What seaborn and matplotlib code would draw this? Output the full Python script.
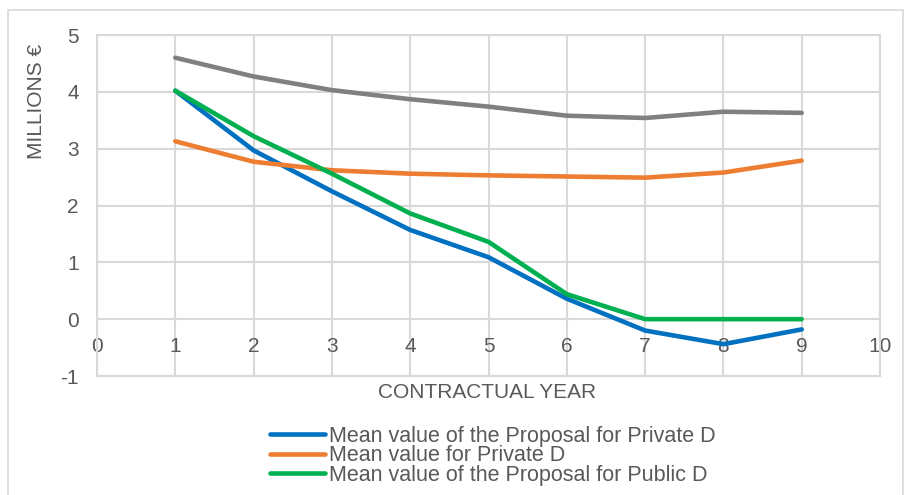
import matplotlib
matplotlib.use("Agg")
import matplotlib.pyplot as plt
import seaborn as sns
import pandas as pd
from matplotlib.patches import Rectangle

# Contract years and mean values (millions of euro)
years = [1, 2, 3, 4, 5, 6, 7, 8, 9]
proposal_private = [4.02, 2.97, 2.25, 1.57, 1.09, 0.36, -0.20, -0.44, -0.18]
mean_private = [3.13, 2.77, 2.62, 2.56, 2.53, 2.51, 2.49, 2.58, 2.79]
proposal_public = [4.02, 3.22, 2.56, 1.86, 1.36, 0.44, 0.0, 0.0, 0.0]
reference_series = [4.60, 4.27, 4.03, 3.87, 3.74, 3.58, 3.54, 3.65, 3.63]

series_names = [
    "Mean value of the Proposal for Private D",
    "Mean value for Private D",
    "Mean value of the Proposal for Public D",
]
series_colors = ["#0070C0", "#ED7D31", "#00B050"]

x_ticks = list(range(0, 11))
y_ticks = list(range(-1, 6))

df = pd.DataFrame({
    "year": years * 3,
    "value": proposal_private + mean_private + proposal_public,
    "series": [series_names[0]] * 9 + [series_names[1]] * 9 + [series_names[2]] * 9,
})

sns.set_theme(style="white")
plt.rcParams["font.family"] = ["Liberation Sans", "DejaVu Sans"]
plt.rcParams["axes.unicode_minus"] = False
text_color = "#595959"
grid_color = "#D9D9D9"
fs = 15

W, H = 906, 495
fig = plt.figure(figsize=(W / 100, H / 100), dpi=100)
ax = fig.add_axes([97 / W, 1 - 376 / H, (880 - 97) / W, (376 - 35) / H])

# Chart border
fig.patches.append(Rectangle((8 / W, -0.05), (903 - 8) / W, 1 - 10 / H + 0.05,
                             transform=fig.transFigure, fill=False,
                             edgecolor=grid_color, linewidth=1.2))

sns.lineplot(data=df, x="year", y="value", hue="series", hue_order=series_names,
             palette=series_colors, linewidth=3.3, ax=ax, legend=False, zorder=3)
sns.lineplot(x=years, y=reference_series, color="#808080", linewidth=3.3, ax=ax,
             legend=False, zorder=3)
for ln in ax.lines:
    ln.set_solid_capstyle("round")
    ln.set_solid_joinstyle("round")

ax.set_xlim(0, 10)
ax.set_ylim(-1, 5)
ax.set_xticks(x_ticks)
ax.set_yticks(y_ticks)
ax.grid(True, color=grid_color, linewidth=1.5)
ax.set_axisbelow(True)
for side in ["top", "right", "left"]:
    ax.spines[side].set_color(grid_color)
    ax.spines[side].set_linewidth(1.5)
ax.spines["bottom"].set_position(("data", 0))
ax.spines["bottom"].set_color("none")

ax.tick_params(axis="x", length=0, pad=13, labelsize=fs, labelcolor=text_color)
ax.tick_params(axis="y", length=0, pad=13, labelsize=fs, labelcolor=text_color)
ax.set_xlabel("")
ax.set_ylabel("")

# Bottom edge line at y = -1
ax.axhline(-1, color=grid_color, linewidth=1.5, zorder=1, clip_on=False)

fig.text(487 / W, 1 - 392 / H, "CONTRACTUAL YEAR", ha="center", va="center",
         fontsize=fs, color=text_color)
fig.text(36 / W, 1 - 101 / H, "MILLIONS €", ha="center", va="center",
         rotation=90, fontsize=fs, color=text_color)

handles = [plt.Line2D([], [], color=c, linewidth=3.3, solid_capstyle="round")
           for c in series_colors]
leg = fig.legend(handles, series_names, loc="upper left",
                 bbox_to_anchor=(270 / W, 1 - 426 / H), frameon=False,
                 fontsize=15.5, handlelength=2.55, handletextpad=0.2,
                 labelspacing=-0.08, borderpad=0, borderaxespad=0)
for t in leg.get_texts():
    t.set_color(text_color)

fig.savefig("out.png", dpi=100)
